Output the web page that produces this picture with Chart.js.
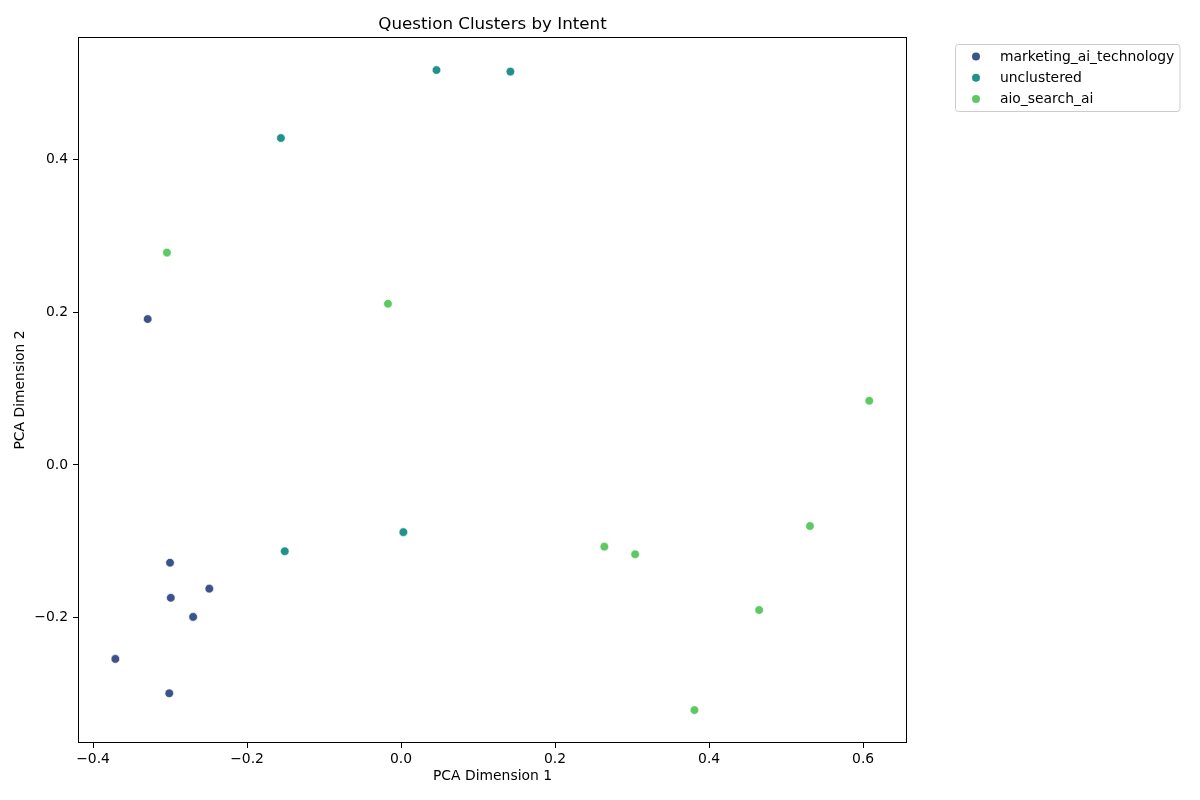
<!DOCTYPE html>
<html>
<head>
<meta charset="utf-8">
<script src="https://cdn.jsdelivr.net/npm/chart.js@4.4.1/dist/chart.umd.min.js"></script>
<style>
  html, body { margin: 0; padding: 0; background: #fff; }
  #wrap { width: 1200px; height: 800px; }
</style>
</head>
<body>
<div id="wrap"><canvas id="chart" width="1200" height="800"></canvas></div>
<script>
// 各クラスタの点（PCA 1, PCA 2）
const marketingX = [-0.329, -0.300, -0.249, -0.299, -0.270, -0.371, -0.301];
const marketingY = [0.191, -0.128, -0.162, -0.174, -0.199, -0.254, -0.299];

const unclusteredX = [0.046, 0.142, -0.156, 0.003, -0.151];
const unclusteredY = [0.517, 0.515, 0.428, -0.088, -0.113];

const aioX = [-0.304, -0.017, 0.608, 0.531, 0.264, 0.304, 0.465, 0.381];
const aioY = [0.278, 0.211, 0.084, -0.080, -0.107, -0.117, -0.190, -0.321];

const seriesNames = ['marketing_ai_technology', 'unclustered', 'aio_search_ai'];

// 軸の範囲と目盛り
const xRange = [-0.4195, 0.657];
const yRange = [-0.3641, 0.5603];
const xTicks = [-0.4, -0.2, 0.0, 0.2, 0.4, 0.6];
const yTicks = [-0.2, 0.0, 0.2, 0.4];

const COLORS = ['#3b528b', '#21918c', '#5ec962'];
const FONT = 'DejaVu Sans';

function toPoints(xs, ys) {
  return xs.map((x, i) => ({ x, y: ys[i] }));
}

// マイナス記号付きのラベル
function fmtTick(v) {
  const s = Math.abs(v).toFixed(1);
  return v < -1e-9 ? '\u2212' + s : s;
}

// 枠・タイトル・凡例を描くプラグイン
const decoPlugin = {
  id: 'deco',
  afterDraw(chart) {
    const ctx = chart.ctx;
    const a = chart.chartArea;
    ctx.save();
    ctx.strokeStyle = '#000';
    ctx.lineWidth = 1;
    ctx.strokeRect(a.left + 0.5, a.top + 0.5, a.right - a.left - 1, a.bottom - a.top - 1);

    // タイトル
    ctx.fillStyle = '#000';
    ctx.font = `16.7px "${FONT}"`;
    ctx.textAlign = 'center';
    ctx.textBaseline = 'alphabetic';
    ctx.fillText('Question Clusters by Intent', (a.left + a.right) / 2, 29);

    // 凡例
    const bx = 955.5, by = 44.5, bw = 224.5, bh = 67;
    ctx.beginPath();
    ctx.roundRect(bx, by, bw, bh, 3);
    ctx.fillStyle = 'rgba(255,255,255,0.8)';
    ctx.fill();
    ctx.strokeStyle = '#cccccc';
    ctx.lineWidth = 1;
    ctx.stroke();

    ctx.font = `13.9px "${FONT}"`;
    ctx.textAlign = 'left';
    ctx.textBaseline = 'middle';
    chart.data.datasets.forEach((ds, i) => {
      const cy = 56.5 + i * 21.3;
      ctx.beginPath();
      ctx.arc(976, cy, 4, 0, Math.PI * 2);
      ctx.fillStyle = ds.backgroundColor;
      ctx.fill();
      ctx.fillStyle = '#000';
      ctx.fillText(ds.label, 1000, cy + 0.5);
    });
    ctx.restore();
  },
};

const datasets = [
  toPoints(marketingX, marketingY),
  toPoints(unclusteredX, unclusteredY),
  toPoints(aioX, aioY),
].map((pts, i) => ({
  label: seriesNames[i],
  data: pts,
  backgroundColor: COLORS[i],
  borderColor: '#ffffff',
  borderWidth: 0.6,
  pointRadius: 4.3,
}));

new Chart(document.getElementById('chart'), {
  type: 'scatter',
  data: { datasets },
  options: {
    responsive: false,
    animation: false,
    devicePixelRatio: 1,
    layout: { padding: { left: 0, top: 37, right: 293, bottom: 0 } },
    plugins: {
      legend: { display: false },
      tooltip: { enabled: false },
    },
    scales: {
      x: {
        type: 'linear',
        min: xRange[0],
        max: xRange[1],
        afterBuildTicks: (s) => { s.ticks = xTicks.map(v => ({ value: v })); },
        afterFit: (s) => { s.height = 57; },
        ticks: {
          callback: (v) => fmtTick(v),
          color: '#000',
          font: { family: FONT, size: 13.9 },
          padding: 3,
          maxRotation: 0,
          autoSkip: false,
        },
        grid: { drawOnChartArea: false, drawTicks: true, tickLength: 5, color: '#000', lineWidth: 1 },
        border: { display: false },
        title: {
          display: true,
          text: 'PCA Dimension 1',
          color: '#000',
          font: { family: FONT, size: 13.9 },
          padding: { top: 0, bottom: 15 },
        },
      },
      y: {
        type: 'linear',
        min: yRange[0],
        max: yRange[1],
        afterBuildTicks: (s) => { s.ticks = yTicks.map(v => ({ value: v })); },
        afterFit: (s) => { s.width = 78; },
        ticks: {
          callback: (v) => fmtTick(v),
          color: '#000',
          font: { family: FONT, size: 13.9 },
          padding: 5,
          autoSkip: false,
        },
        grid: { drawOnChartArea: false, drawTicks: true, tickLength: 5, color: '#000', lineWidth: 1 },
        border: { display: false },
        title: {
          display: true,
          text: 'PCA Dimension 2',
          color: '#000',
          font: { family: FONT, size: 13.9 },
          padding: { top: 11.7, bottom: 0 },
        },
      },
    },
  },
  plugins: [decoPlugin],
});
</script>
</body>
</html>
